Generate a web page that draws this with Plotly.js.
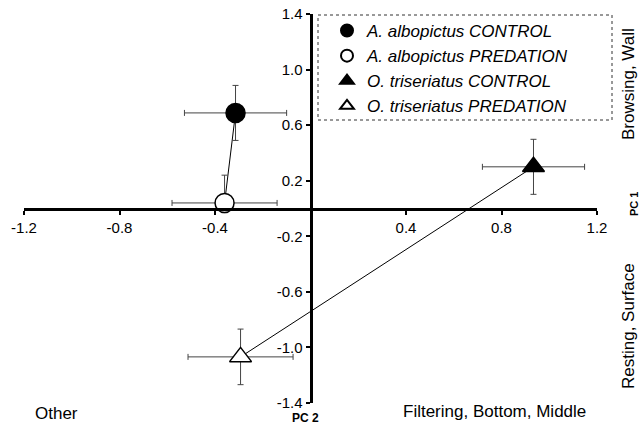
<!DOCTYPE html>
<html>
<head>
<meta charset="utf-8">
<script src="https://cdn.plot.ly/plotly-3.0.1.min.js"></script>
<style>html,body{margin:0;padding:0;background:#fff}#chart{width:641px;height:426px}</style>
</head>
<body>
<div id="chart"></div>
<script>
// Data (PC 2 on x, PC 1 on y)
const seriesNames = ["A. albopictus CONTROL", "A. albopictus PREDATION", "O. triseriatus CONTROL", "O. triseriatus PREDATION"];
const pc2 = [-0.314, -0.36, 0.934, -0.293];
const pc1 = [0.688, 0.04, 0.30, -1.068];
const pc2Err = [0.214, 0.22, 0.214, 0.22];
const pc1ErrPlus = [0.198, 0.20, 0.198, 0.20];
const pc1ErrMinus = [0.198, 0.07, 0.198, 0.20];
const xTicks = [-1.2, -0.8, -0.4, 0.4, 0.8, 1.2];
const yTicks = [-1.4, -1.0, -0.6, -0.2, 0.2, 0.6, 1.0, 1.4];

const symbols = ["circle", "circle", "triangle-up", "triangle-up"];
const fills = ["black", "white", "black", "white"];
const sizes = [19, 19, 19, 19];

const font = "Liberation Sans, Arial, sans-serif";
const traces = [];
// connecting lines per species
[[0, 1], [2, 3]].forEach(pair => {
  traces.push({
    x: pair.map(i => pc2[i]), y: pair.map(i => pc1[i]),
    mode: "lines", type: "scatter", showlegend: false, hoverinfo: "skip",
    line: {color: "black", width: 1}
  });
});
seriesNames.forEach((n, i) => {
  traces.push({
    x: [pc2[i]], y: [pc1[i]], name: n, type: "scatter", mode: "markers",
    marker: {symbol: symbols[i], size: sizes[i], color: fills[i], line: {color: "black", width: 1.5}},
    error_x: {type: "data", array: [pc2Err[i]], color: "#444", thickness: 1, width: 3},
    error_y: {type: "data", symmetric: false, array: [pc1ErrPlus[i]], arrayminus: [pc1ErrMinus[i]], color: "#444", thickness: 1, width: 3}
  });
});

const px = v => (v - 24) / 573;
const py = v => (403 - v) / 389;

const layout = {
  width: 641, height: 426,
  margin: {l: 24, r: 44, t: 14, b: 23},
  paper_bgcolor: "white", plot_bgcolor: "white",
  showlegend: true,
  font: {family: font, color: "black", size: 15},
  xaxis: {
    range: [-1.2, 1.2], anchor: "free", position: 0.5,
    showline: true, linecolor: "black", linewidth: 3,
    showgrid: false, zeroline: false,
    ticks: "outside", ticklen: 4, tickwidth: 2, tickcolor: "black",
    tickmode: "array", tickvals: xTicks, ticktext: xTicks.map(v => v.toFixed(1)),
    tickfont: {family: font, size: 15, color: "black"}
  },
  yaxis: {
    range: [-1.4, 1.4], anchor: "free", position: 0.5,
    showline: true, linecolor: "black", linewidth: 3,
    showgrid: false, zeroline: false,
    ticks: "outside", ticklen: 4, tickwidth: 2, tickcolor: "black",
    tickmode: "array", tickvals: yTicks, ticktext: yTicks.map(v => v.toFixed(1)),
    tickfont: {family: font, size: 15, color: "black"}
  },
  legend: {
    x: px(327), y: py(13), xanchor: "left", yanchor: "top",
    bgcolor: "rgba(0,0,0,0)", borderwidth: 0,
    font: {family: font, size: 17, color: "black", style: "italic"},
    itemsizing: "constant"
  },
  shapes: [{
    type: "rect", xref: "paper", yref: "paper",
    x0: px(318), x1: px(612), y0: py(120), y1: py(15),
    line: {color: "#333", width: 1, dash: "dot"}, fillcolor: "rgba(0,0,0,0)"
  }],
  annotations: [
    {text: "Browsing, Wall", x: px(628), y: py(84), textangle: -90},
    {text: "PC 1", x: px(634), y: py(204), textangle: -90, font: {family: font, size: 11, color: "black", weight: "bold"}},
    {text: "Resting, Surface", x: px(628), y: py(326), textangle: -90},
    {text: "Other", x: px(56), y: py(413)},
    {text: "PC 2", x: px(305), y: py(418), font: {family: font, size: 12, color: "black", weight: "bold"}},
    {text: "Filtering, Bottom, Middle", x: px(494), y: py(411)}
  ].map(a => Object.assign({xref: "paper", yref: "paper", showarrow: false, xanchor: "center", yanchor: "middle", font: {family: font, size: 17, color: "black"}}, a))
};

Plotly.newPlot("chart", traces, layout, {displayModeBar: false, staticPlot: true});
</script>
</body>
</html>
